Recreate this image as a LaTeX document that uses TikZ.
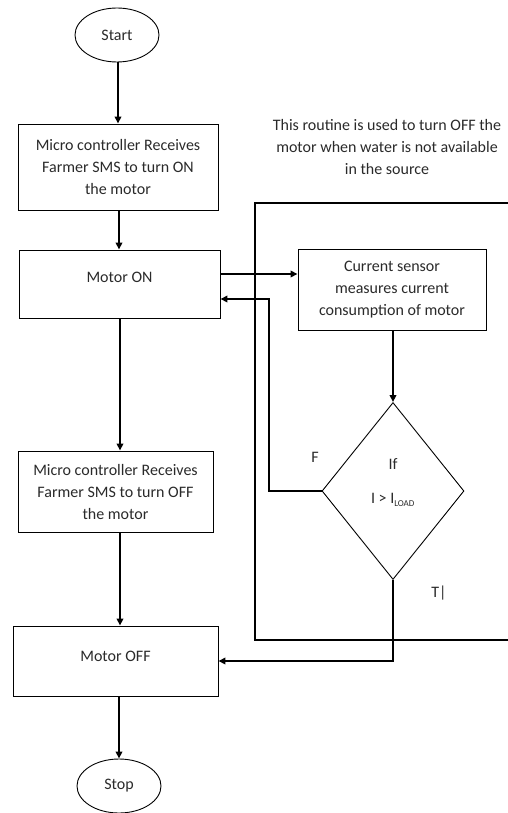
\documentclass[tikz,border=0pt]{standalone}
\usepackage{fontspec}
\setmainfont{Carlito}
\usetikzlibrary{arrows.meta,shapes.geometric}
\definecolor{txt}{HTML}{2A2A2A}
\begin{document}
\begin{tikzpicture}[x=1pt,y=-1pt,
  font=\fontsize{16}{22}\selectfont,
  txtnode/.style={text=txt,align=center,inner sep=0pt},
  box/.style={draw,line width=0.9pt,inner sep=0pt,text=txt,align=center},
  term/.style={draw,line width=0.9pt,ellipse,inner sep=0pt,text=txt},
  arr/.style={line width=1.7pt,-{Triangle[length=7pt,width=6.5pt]}},
  frame/.style={line width=1.7pt}]
\useasboundingbox (0,0) rectangle (508,813);
% terminals and boxes
\node[term,minimum width=84,minimum height=54] (start) at (117,35) {Start};
\node[box,minimum width=200,minimum height=86] (b1) at (118,167) {Micro controller Receives\\Farmer SMS to turn ON\\the motor};
\node[box,minimum width=201,minimum height=68] (on) at (119.5,284) {};
\node[txtnode] (ontxt) at (119.5,277) {Motor ON};
\node[box,minimum width=188,minimum height=81] (cs) at (392,289.5) {Current sensor\\measures current\\consumption of motor};
\node[draw,line width=0.9pt,diamond,inner sep=0pt,minimum width=142,minimum height=177] (dec) at (393,491) {};
\node[txtnode] (if) at (393,464) {If};
\node[txtnode] (cond) at (393,500) {I > I\textsubscript{\fontsize{9}{9}\selectfont LOAD}};
\node[txtnode] (flab) at (315,457) {F};
\node[txtnode] (tlab) at (439,593) {T|};
\node[box,minimum width=195,minimum height=81] (b2) at (115.5,491.5) {Micro controller Receives\\Farmer SMS to turn OFF\\the motor};
\node[box,minimum width=205,minimum height=70] (off) at (115.5,661) {};
\node[txtnode] (offtxt) at (115.5,656) {Motor OFF};
\node[term,minimum width=84,minimum height=54] (stop) at (119,786) {Stop};
\node[txtnode] (note) at (387,147) {This routine is used to turn OFF the\\motor when water is not available\\in the source};
% routine frame
\coordinate (fa) at (508,203);
\coordinate (fb) at (255,203);
\coordinate (fc) at (255,640);
\coordinate (fd) at (508,640);
\draw[frame] (fa) -- (fb) -- (fc) -- (fd);
% connectors
\coordinate (ya) at (0,274);
\coordinate (ret) at (269,299);
\draw[arr] (start.south -| 118,0) -- (b1.north -| 118,0);
\draw[arr] (b1.south -| 119,0) -- (on.north -| 119,0);
\draw[arr] (on.south -| 120,0) -- (b2.north -| 120,0);
\draw[arr] (b2.south -| 120,0) -- (off.north -| 120,0);
\draw[arr] (off.south -| 119,0) -- (stop.north -| 119,0);
\draw[arr] (on.east |- ya) -- (cs.west |- ya);
\draw[arr] (cs.south -| dec.north) -- (dec.north);
\draw[arr] (dec.west) -| (ret) -- (on.east |- ret);
\draw[arr] (dec.south) |- (off.east);
\end{tikzpicture}
\end{document}
